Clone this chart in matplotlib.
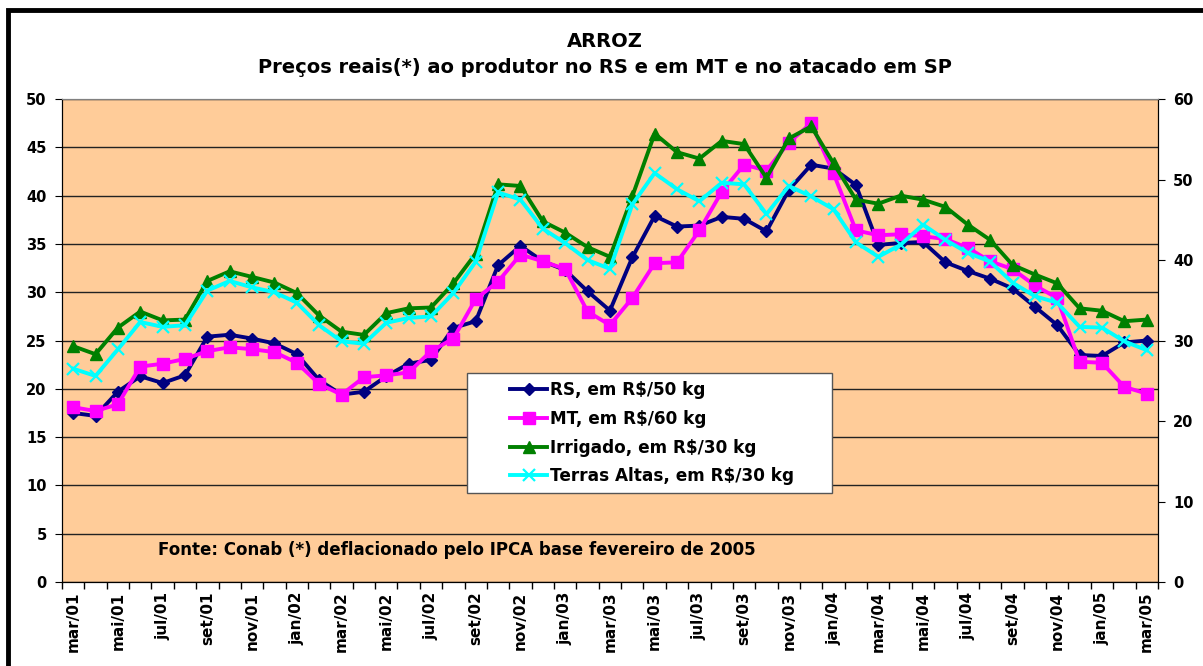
import matplotlib
matplotlib.use('Agg')
import matplotlib.pyplot as plt
from matplotlib.patches import Rectangle

plt.rcParams['font.family'] = ['DejaVu Sans']
plt.rcParams['font.weight'] = 'bold'

# meses de mar/01 a mar/05
meses = ['mar/01', 'abr/01', 'mai/01', 'jun/01', 'jul/01', 'ago/01', 'set/01', 'out/01', 'nov/01', 'dez/01',
         'jan/02', 'fev/02', 'mar/02', 'abr/02', 'mai/02', 'jun/02', 'jul/02', 'ago/02', 'set/02', 'out/02',
         'nov/02', 'dez/02', 'jan/03', 'fev/03', 'mar/03', 'abr/03', 'mai/03', 'jun/03', 'jul/03', 'ago/03',
         'set/03', 'out/03', 'nov/03', 'dez/03', 'jan/04', 'fev/04', 'mar/04', 'abr/04', 'mai/04', 'jun/04',
         'jul/04', 'ago/04', 'set/04', 'out/04', 'nov/04', 'dez/04', 'jan/05', 'fev/05', 'mar/05']

# eixo esquerdo (R$/50 kg e R$/60 kg)
rs = [17.5, 17.2, 19.7, 21.3, 20.6, 21.4, 25.4, 25.6, 25.2, 24.7,
      23.6, 20.9, 19.4, 19.7, 21.3, 22.6, 23.0, 26.3, 27.0, 32.8,
      34.8, 33.2, 32.3, 30.1, 28.1, 33.6, 37.9, 36.8, 36.9, 37.8,
      37.6, 36.3, 40.6, 43.2, 42.8, 41.1, 34.9, 35.1, 35.2, 33.1,
      32.2, 31.4, 30.4, 28.5, 26.6, 23.5, 23.4, 24.8, 25.0]
mt = [18.1, 17.7, 18.4, 22.3, 22.6, 23.1, 23.9, 24.3, 24.1, 23.8,
      22.7, 20.5, 19.4, 21.2, 21.4, 21.7, 23.9, 25.2, 29.3, 31.1,
      33.9, 33.2, 32.4, 28.0, 26.6, 29.4, 33.0, 33.1, 36.4, 40.4,
      43.2, 42.6, 45.5, 47.5, 42.3, 36.4, 35.9, 36.0, 35.8, 35.5,
      34.6, 33.2, 32.4, 30.7, 29.4, 22.8, 22.7, 20.2, 19.5]
# eixo direito (R$/30 kg)
irrigado = [29.3, 28.3, 31.6, 33.6, 32.5, 32.6, 37.4, 38.6, 37.9, 37.2,
            35.9, 33.1, 31.1, 30.7, 33.4, 34.0, 34.1, 37.1, 40.8, 49.4,
            49.2, 44.8, 43.4, 41.6, 40.4, 47.9, 55.7, 53.4, 52.6, 54.8,
            54.4, 50.2, 55.1, 56.6, 52.0, 47.5, 47.0, 48.0, 47.5, 46.6,
            44.4, 42.5, 39.4, 38.2, 37.1, 34.0, 33.7, 32.4, 32.6]
terras_altas = [26.5, 25.6, 28.9, 32.3, 31.7, 31.9, 36.2, 37.4, 36.6, 36.0,
                34.7, 31.9, 29.9, 29.6, 32.2, 32.8, 33.0, 35.9, 39.8, 48.4,
                47.5, 43.9, 42.1, 40.0, 38.9, 46.9, 50.8, 48.8, 47.3, 49.6,
                49.4, 45.7, 49.2, 47.9, 46.3, 42.2, 40.4, 41.9, 44.4, 42.5,
                40.9, 39.8, 37.2, 35.5, 34.7, 31.7, 31.6, 29.9, 28.8]

x = list(range(len(meses)))

fig = plt.figure(figsize=(12.03, 6.66), dpi=100)
ax = fig.add_axes([0.0515, 0.1261, 0.911, 0.7252])
ax2 = ax.twinx()

ax.set_facecolor('#FFCC99')
ax.set_axisbelow(True)
ax.yaxis.grid(True, color='#222222', linewidth=1)

l1, = ax.plot(x, rs, color='#000080', lw=2.8, marker='D', ms=6.5, label='RS, em R$/50 kg')
l2, = ax.plot(x, mt, color='#FF00FF', lw=2.8, marker='s', ms=8, label='MT, em R$/60 kg')
l3, = ax2.plot(x, irrigado, color='#008000', lw=2.8, marker='^', ms=8.5, label='Irrigado, em R$/30 kg')
l4, = ax2.plot(x, terras_altas, color='#00FFFF', lw=2.8, marker='x', ms=8, mew=1.6,
               label='Terras Altas, em R$/30 kg')

ax.set_xlim(-0.5, len(meses) - 0.5)
ax.set_ylim(0, 50)
ax2.set_ylim(0, 60)
ax.set_yticks(range(0, 51, 5))
ax2.set_yticks(range(0, 61, 10))

ax.set_xticks(x[::2])
ax.set_xticklabels(meses[::2], rotation=90, fontsize=11, fontweight='bold')
ax.set_xticks([i - 0.5 for i in range(len(meses) + 1)], minor=True)
ax.tick_params(axis='x', which='major', length=0, pad=7)
ax.tick_params(axis='x', which='minor', length=5, direction='out', width=1)
ax.tick_params(axis='y', length=5, direction='out', labelsize=10.5, pad=6)
ax2.tick_params(axis='y', length=5, direction='out', labelsize=10.5, pad=6)
for lab in ax.get_yticklabels() + ax2.get_yticklabels():
    lab.set_fontweight('bold')

for a in (ax, ax2):
    a.spines['top'].set_color('#808080')
    a.spines['left'].set_color('black')
    a.spines['right'].set_color('black')
    a.spines['bottom'].set_color('black')

# caixa da legenda
ax2.add_patch(Rectangle((0.370, 0.184), 0.3326, 0.249, transform=ax.transAxes,
                        facecolor='white', edgecolor='#555555', lw=1, zorder=5))
leg = ax2.legend(handles=[l1, l2, l3, l4], loc='upper left', bbox_to_anchor=(0.395, 0.447),
                 frameon=False, fontsize=12.2, handlelength=2.2, handletextpad=0.15,
                 labelspacing=0.63, borderpad=0.4)
leg.set_zorder(6)
for t in leg.get_texts():
    t.set_fontweight('bold')

ax2.text(0.0876, 0.066, 'Fonte: Conab (*) deflacionado pelo IPCA base fevereiro de 2005',
         transform=ax.transAxes, fontsize=12, fontweight='bold', va='center', ha='left', zorder=7)

fig.text(0.503, 0.938, 'ARROZ', ha='center', va='center', fontsize=14, fontweight='bold')
fig.text(0.503, 0.899, 'Preços reais(*) ao produtor no RS e em MT e no atacado em SP',
         ha='center', va='center', fontsize=14, fontweight='bold')

# moldura
fig.patches.append(Rectangle((8 / 1203, -0.2), 1.2, 1.2 - 10 / 666, transform=fig.transFigure,
                             fill=False, edgecolor='black', lw=3.5))

fig.savefig('out.png', dpi=100)
